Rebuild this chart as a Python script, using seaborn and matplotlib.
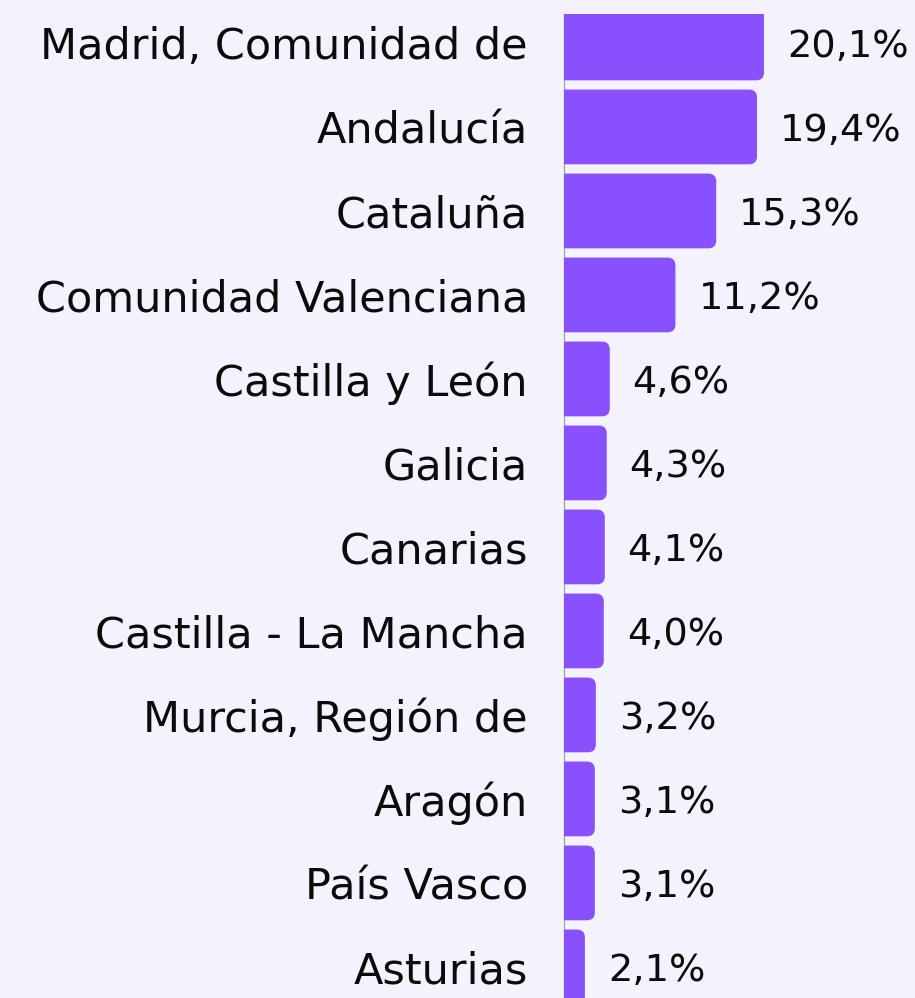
import matplotlib
matplotlib.use("Agg")
import matplotlib.pyplot as plt
import pandas as pd
import seaborn as sns
from matplotlib.patches import FancyBboxPatch

regions = [
    "Madrid, Comunidad de",
    "Andalucía",
    "Cataluña",
    "Comunidad Valenciana",
    "Castilla y León",
    "Galicia",
    "Canarias",
    "Castilla - La Mancha",
    "Murcia, Región de",
    "Aragón",
    "País Vasco",
    "Asturias",
]
shares = [20.1, 19.4, 15.3, 11.2, 4.6, 4.3, 4.1, 4.0, 3.2, 3.1, 3.1, 2.1]

BG = "#F4F2FD"
BAR = "#8851FD"
FONT = ["DejaVu Sans"]


def main() -> None:
    df = pd.DataFrame({"region": regions, "share": shares})

    sns.set_theme(style="white")
    plt.rcParams["font.family"] = FONT

    fig = plt.figure(figsize=(9.15, 9.98), dpi=100, facecolor=BG)
    ax = fig.add_axes([0.6164, 0.0, 0.3836, 0.986])
    ax.set_facecolor(BG)

    sns.barplot(data=df, x="share", y="region", color=BAR, width=0.89,
                saturation=1, ax=ax, orient="h")

    xmax = (915 - 564) / 9.95
    ax.set_xlim(0, xmax)
    ax.set_ylim(11.37, -0.345)

    # swap square bars for ones with rounded right corners
    aspect = 9.95 / 84
    for p in list(ax.patches):
        x0, y0 = p.get_x(), p.get_y()
        w, h = p.get_width(), p.get_height()
        p.remove()
        box = FancyBboxPatch(
            (x0 - 2, y0), w + 2, h,
            boxstyle="round,pad=0,rounding_size=0.8",
            mutation_aspect=aspect,
            facecolor=BAR, edgecolor="none", zorder=2,
        )
        ax.add_patch(box)

    for i, v in enumerate(shares):
        ax.text(v + 2.3, i, f"{v:.1f}%".replace(".", ","), ha="left",
                va="center_baseline", fontsize=27.5, color="#0B0B0B",
                family=FONT)

    ax.set_xlabel("")
    ax.set_ylabel("")
    ax.set_xticks([])
    ax.tick_params(axis="y", length=0, pad=26)
    for lab in ax.get_yticklabels():
        lab.set_fontsize(31)
        lab.set_color("#0B0B0B")
        lab.set_family(FONT)

    for side in ["top", "right", "bottom"]:
        ax.spines[side].set_visible(False)
    ax.spines["left"].set_color("#A9A7B0")
    ax.spines["left"].set_linewidth(1.0)
    ax.spines["left"].set_zorder(1)

    fig.savefig("out.png", dpi=100, facecolor=BG)
    plt.close(fig)


if __name__ == "__main__":
    main()
